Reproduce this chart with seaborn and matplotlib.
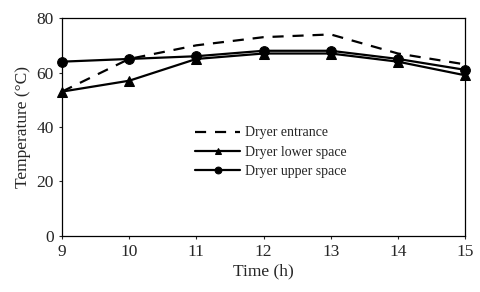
import matplotlib
matplotlib.use("Agg")
import matplotlib.pyplot as plt
import seaborn as sns
import pandas as pd

# ─── DATA ─────────────────────────────────────────────────────────────────────
hours = [9, 10, 11, 12, 13, 14, 15]
entrance = [53, 65, 70, 73, 74, 67, 63]
lower_space = [53, 57, 65, 67, 67, 64, 59]
upper_space = [64, 65, 66, 68, 68, 65, 61]

df = pd.DataFrame({'hour': hours, 'entrance': entrance,
                   'lower': lower_space, 'upper': upper_space})

# ─── PLOT ─────────────────────────────────────────────────────────────────────
sns.set_style('ticks')
plt.rcParams['font.family'] = ['Liberation Serif', 'DejaVu Serif']

fig, ax = plt.subplots(figsize=(4.8, 2.92), dpi=100)
fig.subplots_adjust(left=0.129, right=0.969, bottom=0.192, top=0.938)

sns.lineplot(data=df, x='hour', y='entrance', ax=ax, color='black',
             linewidth=1.6, linestyle=(0, (5, 4)), label='Dryer entrance',
             clip_on=False)
sns.lineplot(data=df, x='hour', y='lower', ax=ax, color='black',
             linewidth=1.6, marker='^', markersize=7, markeredgecolor='black',
             label='Dryer lower space', clip_on=False)
sns.lineplot(data=df, x='hour', y='upper', ax=ax, color='black',
             linewidth=1.6, marker='o', markersize=7, markeredgecolor='black',
             label='Dryer upper space', clip_on=False)

ax.set_xlim(9, 15)
ax.set_ylim(0, 80)
ax.set_xticks(hours)
ax.set_yticks([0, 20, 40, 60, 80])
ax.tick_params(labelsize=12.5, direction='out', length=2.5, width=0.8)
ax.set_xlabel('Time (h)', fontsize=12.5, labelpad=2)
ax.set_ylabel('Temperature (°C)', fontsize=12.5, labelpad=4)
for s in ax.spines.values():
    s.set_visible(True)
    s.set_linewidth(0.9)
    s.set_color('black')

ax.legend(loc='upper left', bbox_to_anchor=(0.3, 0.56), frameon=False,
          fontsize=10, handlelength=3.2, handletextpad=0.4, labelspacing=0.45,
          markerscale=0.7)

fig.savefig('out.png', dpi=100)
